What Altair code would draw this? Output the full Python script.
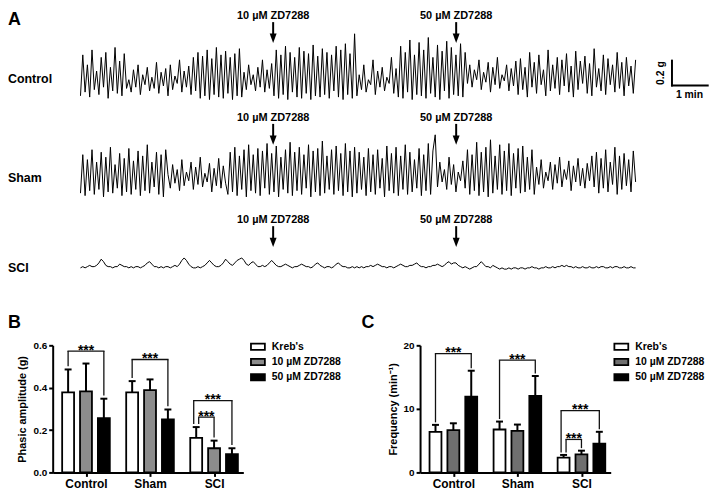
import json
import altair as alt
import pandas as pd

FONT = "Liberation Sans"

# ---------------- Panel A: contraction traces (0.01 g above each trace's resting level) -------------
control_trace = [
    5, 38, 8, 30, 4, 42, 10, 25, 6, 36, 12, 40, 3, 28, 9, 44, 7, 33, 5, 39, 11,
    18, 8, 26, 12, 30, 6, 22, 14, 28, 9, 20, 11, 32, 7, 24, 13, 27, 5, 30, 10, 21, 15, 34, 8, 25, 12, 29, 6, 36, 9,
    40, 3, 37, 5, 42, 2, 35, 6, 44, 4, 38, 3, 41, 7, 36, 2, 39, 5, 43, 4,
    24, 10, 30, 14, 22, 9, 28, 12, 34, 8, 26, 11, 31,
    5, 42, 3, 38, 6, 45, 2, 40, 8, 36, 4, 44, 3, 41, 7, 39, 2, 46, 5, 37, 4, 43, 6, 40, 3, 38, 9, 45, 4, 42, 2, 47, 6, 39, 3, 55, 5,
    22, 10, 30, 8, 18, 14, 34, 6, 25, 12, 28, 9, 20, 15, 36, 7, 27,
    4, 45, 3, 40, 8, 50, 2, 38, 6, 48, 5, 42, 3, 52, 7, 36, 4, 46, 2, 41, 9, 49, 3, 44, 6, 38, 5, 47, 4, 40,
    15, 30, 12, 26, 18, 34, 10, 24, 16, 32, 8, 28, 14, 36, 11, 22, 17, 30, 9, 27, 13, 33,
    6, 35, 10, 28, 4, 40, 12, 32, 7, 38, 14, 26, 5, 42, 9, 30, 11, 36, 6, 34, 13, 39, 8, 29, 4, 41,
    10, 33, 15, 37, 7, 31, 5, 43, 12, 27, 9, 38, 6, 35, 14, 30, 8, 40, 11, 32, 5, 36, 13, 29, 7, 34,
]
sham_trace = [
    5, 36, 3, 32, 7, 40, 4, 30, 8, 38, 2, 34, 6, 42, 5, 28, 9, 37, 3, 33, 6, 41, 4, 31, 8, 39, 3, 35, 7, 44, 5, 30, 10, 38, 4, 36, 2, 40,
    20, 9, 28, 13, 24, 7, 32, 11, 22, 15, 30, 8, 26, 12, 34, 10, 21, 14, 29, 6, 25, 11, 33, 9, 27, 13,
    4, 38, 6, 42, 3, 35, 8, 40, 2, 44, 7, 36, 5, 41, 3, 39, 9, 45, 4, 37, 6, 43, 2, 34, 8, 40, 5, 46,
    3, 38, 7, 42, 4, 36, 9, 44, 2, 39, 6, 41, 3, 47, 5, 35, 8, 40, 4, 43, 7, 37, 3, 45, 6, 39, 2, 42,
    5, 38, 8, 34, 3, 41, 6, 36, 4, 40, 9, 33, 2, 43, 7, 37, 5, 42, 3, 35, 8, 44, 4, 38, 6, 32, 9, 41, 3, 36, 7, 45, 4, 39, 52,
    10, 30, 14, 24, 8, 34, 12, 28, 6, 22, 15, 31, 9,
    40, 4, 36, 7, 46, 3, 38, 6, 42, 2, 48, 5, 35, 8, 44, 4, 39, 7, 45, 3, 37, 9, 41, 5, 43, 6, 34, 8, 40, 4,
    26, 12, 32, 9, 22, 15, 30, 8, 28, 13, 34, 10, 24, 16, 31, 7, 27, 14, 33, 11, 25, 9, 29, 15, 35, 10,
    38, 5, 33, 9, 40, 6, 30, 12, 42, 4, 35, 8, 37, 11, 32, 6, 39, 14,
]
sci_trace = [
    0, 1, 0, 1, 2, 1, 1, 2, 4, 7, 5, 2, 1, 1, 0, 1, 1, 3, 2, 1,
    1, 0, 1, 0, 1, 1, 0, 1, 2, 4, 5, 3, 1, 1, 0, 1, 0, 1, 1, 0,
    1, 2, 1, 3, 6, 8, 6, 3, 1, 0, 0, 1, 0, 1, 2, 4, 6, 4, 2, 1,
    1, 2, 4, 7, 5, 3, 2, 4, 6, 7, 8, 6, 3, 2, 4, 5, 3, 1, 1, 2,
    1, 2, 4, 6, 4, 2, 1, 1, 2, 3, 2, 1, 0, 1, 1, 2, 3, 2, 1, 1,
    0, 1, 3, 4, 2, 1, 0, 1, 1, 0, 1, 3, 4, 2, 1, 1, 0, 0, 1, 0,
    1, 0, 1, 0, 1, 1, 2, 1, 2, 3, 2, 1, 1, 0, 1, 1, 0, 1, 2, 3,
    2, 1, 1, 2, 2, 3, 4, 2, 1, 1, 0, 1, 1, 2, 2, 3, 2, 1, 2, 4,
    5, 3, 4, 4, 2, 1, 0, 1, 0, -1, 0, 1, 1, 3, 5, 3, 1, 1, 0, 2,
    1, 0, -1, 0, -1, -1, 0, -1, 0, 0, -1, 0, 0, -1, 0, 0, 1, 0, 0, -1,
    0, 0, 1, 0, 0, 1, 0, 1, 1, 2, 1, 2, 1, 1, 0, 1, 0, 0, 1, 0,
    0, 1, 0, 0, 1, 0, 1, 1, 0, 0, 1, 0, 1, 1, 0, 0, 1, 0, 0, 1,
    0, 0,
]
trace_names = ["Control", "Sham", "SCI"]
trace_minutes = 15.53
drug_names = ["10 µM ZD7288", "50 µM ZD7288"]
drug_minutes = [5.39, 10.51]

# ---------------- Panels B and C ----------------
groups = ["Control", "Sham", "SCI"]
series = ["Kreb's", "10 µM ZD7288", "50 µM ZD7288"]

amp_mean = [[0.378, 0.378, 0.163], [0.383, 0.388, 0.114], [0.256, 0.250, 0.086]]
amp_sem = [[0.108, 0.053, 0.051], [0.131, 0.051, 0.036], [0.092, 0.047, 0.028]]
freq_mean = [[6.39, 6.75, 2.34], [6.64, 6.55, 2.85], [11.94, 12.05, 4.52]]
freq_sem = [[1.09, 1.25, 0.41], [1.09, 0.98, 0.57], [4.06, 3.12, 1.87]]

bracket_group = [0, 1, 2, 2]
bracket_left = [0, 0, 0, 0]
bracket_right = [2, 2, 2, 1]
amp_bracket_top = [0.573, 0.533, 0.339, 0.261]
freq_bracket_top = [18.7, 17.66, 9.71, 5.19]
stars = "***"

# ---------------- layout ----------------
PX_PER_MIN = 36.0
G_PER_PX = 0.2 / 25.0
A_W, A_H = 657, 284
A_X0 = -28 / PX_PER_MIN
A_X1 = A_X0 + A_W / PX_PER_MIN
A_Y1 = A_H * G_PER_PX
row_base = [1.536, 0.752, 0.20]
row_label_y = [1.72, 0.92, 0.20]
drug_label_y = [2.228, 1.408, 0.584]
LEFT_MIN = A_X0 - 45 / PX_PER_MIN
SB_X = 16.547
SB_Y = 1.6696

xA = alt.Scale(domain=[A_X0, A_X1], nice=False, zero=False)
yA = alt.Scale(domain=[0, A_Y1], nice=False, zero=False)

trows = []
for name, vals, base in zip(trace_names, [control_trace, sham_trace, sci_trace], row_base):
    n = len(vals)
    for i, v in enumerate(vals):
        trows.append({"trace": name, "t": i * trace_minutes / (n - 1), "g": base + v / 100.0})
tdf = pd.DataFrame(trows)

traces = alt.Chart(tdf).mark_line(color="black").encode(
    x=alt.X("t:Q", scale=xA, axis=None),
    y=alt.Y("g:Q", scale=yA, axis=None),
    detail="trace:N",
    strokeWidth=alt.StrokeWidth("trace:N", scale=alt.Scale(domain=trace_names, range=[1.0, 1.0, 1.6]),
                                legend=None),
)

ldf = pd.DataFrame({"txt": trace_names, "x": [LEFT_MIN] * 3, "y": row_label_y})
row_labels = alt.Chart(ldf).mark_text(align="left", baseline="middle", fontSize=12.5,
                                      fontWeight="bold", color="black").encode(
    x=alt.X("x:Q", scale=xA, axis=None), y=alt.Y("y:Q", scale=yA, axis=None), text="txt:N")

drows = []
for r in range(3):
    for d in range(2):
        ly = drug_label_y[r]
        drows.append({"txt": drug_names[d], "x": drug_minutes[d], "y": ly,
                      "s1": ly - 6 * G_PER_PX, "s2": ly - 19 * G_PER_PX, "h": ly - 22.3 * G_PER_PX})
ddf = pd.DataFrame(drows)
drug_text = alt.Chart(ddf).mark_text(align="center", baseline="middle", fontSize=11,
                                     fontWeight="bold", color="black").encode(
    x=alt.X("x:Q", scale=xA, axis=None), y=alt.Y("y:Q", scale=yA, axis=None), text="txt:N")
shafts = alt.Chart(ddf).mark_rule(color="black", strokeWidth=2).encode(
    x=alt.X("x:Q", scale=xA, axis=None), y=alt.Y("s1:Q", scale=yA, axis=None), y2="s2:Q")
heads = alt.Chart(ddf).mark_point(shape="M-1,-1.35L1,-1.35L0,1.35Z", size=49, filled=True,
                                  color="black", opacity=1, strokeWidth=0).encode(
    x=alt.X("x:Q", scale=xA, axis=None), y=alt.Y("h:Q", scale=yA, axis=None))

letterA = alt.Chart(pd.DataFrame({"txt": ["A"], "x": [LEFT_MIN], "y": [A_Y1]})).mark_text(
    align="left", baseline="top", fontSize=18, fontWeight="bold", color="black").encode(
    x=alt.X("x:Q", scale=xA, axis=None), y=alt.Y("y:Q", scale=yA, axis=None), text="txt:N")

sbdf = pd.DataFrame({"x": [SB_X], "x2": [SB_X + 1.0], "y": [SB_Y], "y2": [SB_Y + 0.2]})
sb_v = alt.Chart(sbdf).mark_rule(color="black", strokeWidth=2, strokeCap="square").encode(
    x=alt.X("x:Q", scale=xA, axis=None), y=alt.Y("y:Q", scale=yA, axis=None), y2="y2:Q")
sb_h = alt.Chart(sbdf).mark_rule(color="black", strokeWidth=2, strokeCap="square").encode(
    x=alt.X("x:Q", scale=xA, axis=None), x2="x2:Q", y=alt.Y("y:Q", scale=yA, axis=None))
sbt = pd.DataFrame({"txt": ["0.2 g", "1 min"], "x": [SB_X - 0.32, SB_X + 0.49],
                    "y": [SB_Y + 0.1, SB_Y - 9.3 * G_PER_PX], "ang": [270, 0]})
sb_text = alt.Chart(sbt).mark_text(align="center", baseline="middle", fontSize=10.5,
                                   fontWeight="bold", color="black").encode(
    x=alt.X("x:Q", scale=xA, axis=None), y=alt.Y("y:Q", scale=yA, axis=None), text="txt:N",
    angle=alt.Angle("ang:Q", scale=None))

panelA = alt.layer(traces, row_labels, drug_text, shafts, heads, letterA, sb_v, sb_h, sb_text).properties(
    width=A_W, height=A_H)

# ---------------- bar panels ----------------
STEP = 64.5
P_W, P_H = 192, 128
X_MAX = P_W / STEP
G0 = 0.52
SLOT = 18 / STEP
HALF_BAR = 6 / STEP
HALF_CAP = 3.5 / STEP


def bar_panel(means, sems, ymax, yticks, yfmt, ytitle, gray, btop, gap, legend_x, letter, letter_px):
    xs = alt.Scale(domain=[0, X_MAX], nice=False, zero=False)
    ys = alt.Scale(domain=[0, ymax], nice=False, zero=False)
    rows = []
    for gi, g in enumerate(groups):
        for si, s in enumerate(series):
            xc = G0 + gi + (si - 1) * SLOT
            m = means[si][gi]
            e = sems[si][gi]
            rows.append({"group": g, "series": s, "xc": xc, "xl": xc - HALF_BAR, "xr": xc + HALF_BAR,
                         "cl": xc - HALF_CAP, "cr": xc + HALF_CAP, "mean": m, "top": m + e, "zero": 0.0})
    df = pd.DataFrame(rows)

    def center(gi, si):
        return G0 + gi + (si - 1) * SLOT

    def etop(gi, si):
        return means[si][gi] + sems[si][gi]

    nudges = [0, 0, -2.5 / STEP, 2.5 / STEP]
    brows = []
    for k in range(len(bracket_group)):
        gi, l, r = bracket_group[k], bracket_left[k], bracket_right[k]
        xl = center(gi, l) + nudges[k]
        xr = center(gi, r)
        brows.append({"xl": xl, "xr": xr, "xm": (xl + xr) / 2, "yt": btop[k],
                      "ylb": etop(gi, l) + gap, "yrb": etop(gi, r) + gap, "txt": stars})
    bdf = pd.DataFrame(brows)

    xaxis = alt.Axis(values=[G0 + i for i in range(len(groups))],
                     labelExpr=json.dumps(groups) + "[round(datum.value - %g)]" % G0,
                     labelFontSize=12, labelPadding=2, labelOverlap=False, title=None)
    yaxis = alt.Axis(values=yticks, format=yfmt, labelFontSize=10, labelPadding=2,
                     title=ytitle, titleFontSize=11, titlePadding=5)

    bars = alt.Chart(df).mark_bar(stroke="black", strokeWidth=1.8, opacity=1).encode(
        x=alt.X("xl:Q", scale=xs, axis=xaxis), x2="xr:Q",
        y=alt.Y("mean:Q", scale=ys, axis=yaxis), y2="zero:Q",
        fill=alt.Fill("series:N", sort=series,
                      scale=alt.Scale(domain=series, range=["white", gray, "black"]),
                      legend=alt.Legend(title=None, orient="none", legendX=legend_x, legendY=-6.5,
                                        symbolType="M-1,-0.45H1V0.45H-1Z", symbolSize=196,
                                        symbolStrokeColor="black", symbolStrokeWidth=1.8,
                                        labelFont=FONT, labelFontSize=10.5, labelFontWeight="bold",
                                        labelColor="black", labelOffset=6, rowPadding=0.3, padding=0)),
    )
    err = alt.Chart(df).mark_rule(color="black", strokeWidth=2).encode(
        x=alt.X("xc:Q", scale=xs), y=alt.Y("mean:Q", scale=ys), y2="top:Q")
    cap = alt.Chart(df).mark_rule(color="black", strokeWidth=2).encode(
        x=alt.X("cl:Q", scale=xs), x2="cr:Q", y=alt.Y("top:Q", scale=ys))
    b_top = alt.Chart(bdf).mark_rule(color="#111", strokeWidth=1.3, strokeCap="square").encode(
        x=alt.X("xl:Q", scale=xs), x2="xr:Q", y=alt.Y("yt:Q", scale=ys))
    b_l = alt.Chart(bdf).mark_rule(color="#111", strokeWidth=1.3).encode(
        x=alt.X("xl:Q", scale=xs), y=alt.Y("yt:Q", scale=ys), y2="ylb:Q")
    b_r = alt.Chart(bdf).mark_rule(color="#111", strokeWidth=1.3).encode(
        x=alt.X("xr:Q", scale=xs), y=alt.Y("yt:Q", scale=ys), y2="yrb:Q")
    b_txt = alt.Chart(bdf).mark_text(fontSize=14, fontWeight="bold", baseline="alphabetic",
                                     align="center", dy=3.6, color="black").encode(
        x=alt.X("xm:Q", scale=xs), y=alt.Y("yt:Q", scale=ys), text="txt:N")
    let = alt.Chart(pd.DataFrame({"txt": [letter], "x": [letter_px / STEP],
                                  "y": [ymax * (1 + 22.5 / P_H)]})).mark_text(
        align="left", baseline="middle", fontSize=18, fontWeight="bold", color="black").encode(
        x=alt.X("x:Q", scale=xs), y=alt.Y("y:Q", scale=ys), text="txt:N")
    return alt.layer(bars, err, cap, b_top, b_l, b_r, b_txt, let).properties(width=P_W, height=P_H)


panelB = bar_panel(amp_mean, amp_sem, 0.6, [0, 0.2, 0.4, 0.6], ".1f", "Phasic amplitude (g)",
                   "#8c8c8c", amp_bracket_top, 0.015, 198.7, "B", -45)
panelC = bar_panel(freq_mean, freq_sem, 20, [0, 5, 10, 15, 20], "d", "Frequency (min⁻¹)",
                   "#6f6f6f", freq_bracket_top, 0.4, 194.7, "C", -59)

bottom = alt.hconcat(panelB, panelC, spacing=178, bounds="flush").resolve_scale(
    fill="independent", x="independent", y="independent").resolve_legend(fill="independent")

chart = alt.vconcat(
    panelA,
    bottom,
    spacing=53, bounds="flush",
).properties(padding=0).configure(font=FONT).configure_view(stroke=None).configure_axis(
    domainColor="black", domainWidth=2, tickColor="black", tickWidth=2, tickSize=4,
    labelColor="black", labelFont=FONT, labelFontWeight="bold",
    titleFont=FONT, titleFontWeight="bold", titleColor="black", grid=False)

chart.save("out.html", embed_options={"renderer": "svg", "actions": False})
